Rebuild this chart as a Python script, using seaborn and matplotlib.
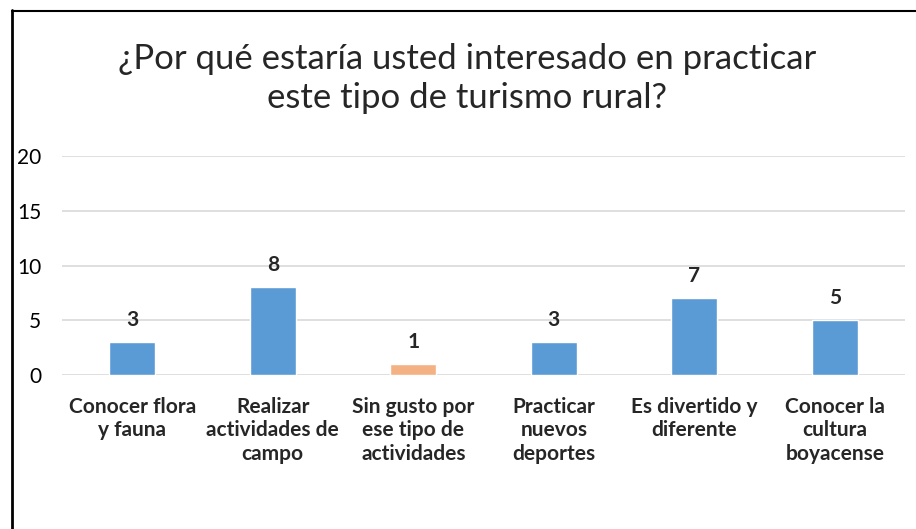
import matplotlib.pyplot as plt
import pandas as pd
import seaborn as sns
from matplotlib.lines import Line2D


CATEGORIES = [
    "Conocer flora\ny fauna",
    "Realizar\nactividades de\ncampo",
    "Sin gusto por\nese tipo de\nactividades",
    "Practicar\nnuevos\ndeportes",
    "Es divertido y\ndiferente",
    "Conocer la\ncultura\nboyacense",
]
VALUES = [3, 8, 1, 3, 7, 5]
BAR_COLORS = ["#5B9BD5", "#5B9BD5", "#F4B183", "#5B9BD5", "#5B9BD5", "#5B9BD5"]
Y_TICKS = [0, 5, 10, 15, 20]
TITLE = "¿Por qué estaría usted interesado en practicar\neste tipo de turismo rural?"


def main() -> None:
    sns.set_style("white")
    plt.rcParams["font.family"] = ["Lato", "DejaVu Sans"]

    data = pd.DataFrame({"category": CATEGORIES, "value": VALUES})

    fig = plt.figure(figsize=(9.16, 5.29), dpi=100)
    ax = fig.add_axes([0.0677, 0.291, 0.9203, 0.414])

    sns.barplot(
        data=data, x="category", y="value", hue="category",
        palette=BAR_COLORS, width=0.33, legend=False, ax=ax, saturation=1,
    )

    ax.set_ylim(0, 20)
    ax.set_yticks(Y_TICKS)
    ax.yaxis.grid(True, color="#D9D9D9", linewidth=1.2)
    ax.set_axisbelow(True)
    for side in ["top", "right", "left", "bottom"]:
        ax.spines[side].set_visible(False)
    ax.set_xlabel("")
    ax.set_ylabel("")
    ax.tick_params(axis="y", labelsize=15, length=0, pad=15, colors="black")
    ax.tick_params(axis="x", length=0, pad=16)
    for label in ax.get_xticklabels():
        label.set_fontsize(15)
        label.set_fontweight("bold")
        label.set_linespacing(1.2)

    for container in ax.containers:
        ax.bar_label(container, fontsize=15, fontweight="bold", padding=9)

    fig.text(0.51, 0.852, TITLE, ha="center", va="center", fontsize=25,
             linespacing=1.25)

    # chart frame (only left and top edges visible)
    fig.add_artist(Line2D([11.5 / 916, 11.5 / 916], [0, 1 - 10 / 529],
                          color="black", linewidth=2, transform=fig.transFigure))
    fig.add_artist(Line2D([11.5 / 916, 1], [1 - 10.5 / 529, 1 - 10.5 / 529],
                          color="black", linewidth=1.5, transform=fig.transFigure))

    fig.savefig("out.png", dpi=100)
    plt.close(fig)


if __name__ == "__main__":
    main()
